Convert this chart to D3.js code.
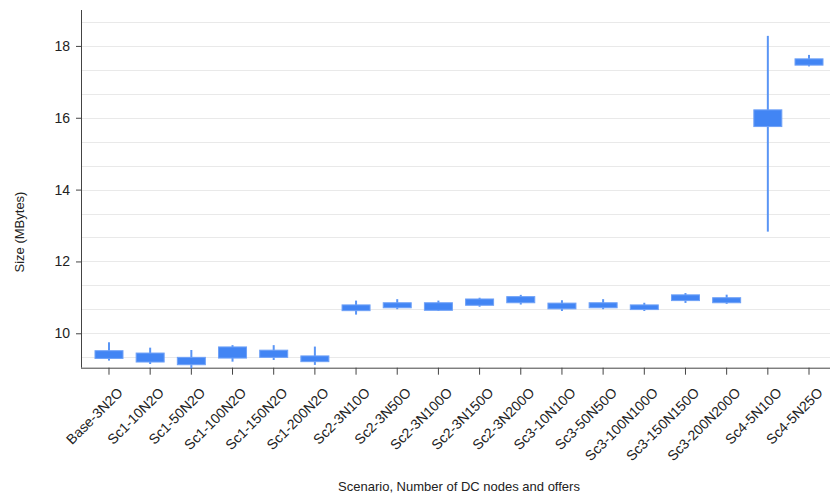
<!DOCTYPE html>
<html>
<head>
<meta charset="utf-8">
<script src="https://cdn.jsdelivr.net/npm/d3@7"></script>
<style>
  html, body { margin: 0; padding: 0; background: #fff; }
  svg { display: block; font-family: "Liberation Sans", Arial, sans-serif; }
</style>
</head>
<body>
<svg id="chart" width="830" height="494"></svg>
<script>
// Scenario labels along the x axis
const categories = [
  "Base-3N2O", "Sc1-10N2O", "Sc1-50N2O", "Sc1-100N2O", "Sc1-150N2O", "Sc1-200N2O",
  "Sc2-3N10O", "Sc2-3N50O", "Sc2-3N100O", "Sc2-3N150O", "Sc2-3N200O",
  "Sc3-10N10O", "Sc3-50N50O", "Sc3-100N100O", "Sc3-150N150O", "Sc3-200N200O",
  "Sc4-5N10O", "Sc4-5N25O"
];
// Candlestick values (MBytes): whisker low, box bottom, box top, whisker high
const low  = [9.24, 9.145, 9.025, 9.21, 9.256, 9.12, 10.52, 10.67, 10.62, 10.74, 10.80, 10.62, 10.67, 10.62, 10.845, 10.82, 12.83, 17.43];
const boxLow  = [9.30, 9.20, 9.125, 9.31, 9.33, 9.21, 10.63, 10.71, 10.64, 10.78, 10.85, 10.68, 10.71, 10.66, 10.91, 10.85, 15.755, 17.465];
const boxHigh = [9.515, 9.45, 9.33, 9.62, 9.53, 9.37, 10.79, 10.85, 10.85, 10.955, 11.02, 10.84, 10.85, 10.79, 11.07, 10.99, 16.22, 17.64];
const high = [9.75, 9.60, 9.535, 9.67, 9.67, 9.63, 10.91, 10.95, 10.91, 10.99, 11.07, 10.92, 10.95, 10.85, 11.12, 11.075, 18.28, 17.75];
// Axis settings
const yTicks = [10, 12, 14, 16, 18];
const yDomain = [9.042, 19.0];

const rows = categories.map((c, i) => ({
  name: c, low: low[i], q1: boxLow[i], q3: boxHigh[i], high: high[i]
}));

const svg = d3.select("#chart");
const plotLeft = 81, plotRight = 830, plotTop = 10, plotBottom = 367.7;

const x = d3.scaleBand().domain(categories).range([88.4, 829.6]).padding(0);
const y = d3.scaleLinear().domain(yDomain).range([plotBottom, plotTop]);

// Gridlines: major every 2, two minor lines in between
const gridVals = d3.range(0, 15).map(k => 10 - 2 / 3 + k * 2 / 3).filter(v => v >= yDomain[0] && v <= yDomain[1]);
svg.append("g").selectAll("line").data(gridVals).join("line")
  .attr("x1", plotLeft).attr("x2", plotRight)
  .attr("y1", d => Math.round(y(d)) + 0.5).attr("y2", d => Math.round(y(d)) + 0.5)
  .attr("stroke", "#e9e9e9").attr("stroke-width", 1.2);

// Y axis
const yAxis = d3.axisLeft(y).tickValues(yTicks).tickSize(5).tickPadding(6).tickFormat(d3.format("d"));
const gy = svg.append("g").attr("transform", `translate(${plotLeft},0)`).call(yAxis);
gy.select(".domain").remove();
gy.selectAll(".tick line").attr("stroke", "#444");
gy.selectAll(".tick text").attr("fill", "#222").style("font-size", "14px")
  .style("font-family", '"Liberation Sans", Arial, sans-serif');
svg.append("line").attr("x1", plotLeft + 0.5).attr("x2", plotLeft + 0.5).attr("y1", plotTop).attr("y2", plotBottom)
  .attr("stroke", "#444");

// X axis
const xAxis = d3.axisBottom(x).tickSize(7).tickPadding(4);
const gx = svg.append("g").attr("transform", `translate(0,${plotBottom})`).call(xAxis);
gx.select(".domain").remove();
gx.selectAll(".tick line").attr("stroke", "#444");
gx.selectAll(".tick text")
  .attr("fill", "#222").style("font-size", "14px")
  .style("font-family", '"Liberation Sans", Arial, sans-serif')
  .attr("text-anchor", "end")
  .attr("dy", "0")
  .attr("transform", "translate(7,18) rotate(-45)");
svg.append("line").attr("x1", plotLeft).attr("x2", plotRight).attr("y1", plotBottom + 0.5).attr("y2", plotBottom + 0.5)
  .attr("stroke", "#444");

// Candlesticks
const boxW = x.bandwidth() * 0.68;
const marks = svg.append("g").selectAll("g").data(rows).join("g");
marks.append("line")
  .attr("x1", d => x(d.name) + x.bandwidth() / 2).attr("x2", d => x(d.name) + x.bandwidth() / 2)
  .attr("y1", d => y(d.high)).attr("y2", d => y(d.low))
  .attr("stroke", "#5a95f5").attr("stroke-width", 2);
marks.append("rect")
  .attr("x", d => x(d.name) + (x.bandwidth() - boxW) / 2)
  .attr("width", boxW)
  .attr("y", d => y(d.q3))
  .attr("height", d => y(d.q1) - y(d.q3))
  .attr("fill", "#4285f4")
  .attr("stroke", "#6fa1f7").attr("stroke-width", 1);

// Axis titles
svg.append("text")
  .attr("x", 459).attr("y", 491)
  .attr("text-anchor", "middle").attr("fill", "#222").style("font-size", "13px")
  .text("Scenario, Number of DC nodes and offers");
svg.append("text")
  .attr("transform", "translate(24,232) rotate(-90)")
  .attr("text-anchor", "middle").attr("fill", "#222").style("font-size", "13px")
  .text("Size (MBytes)");
</script>
</body>
</html>
